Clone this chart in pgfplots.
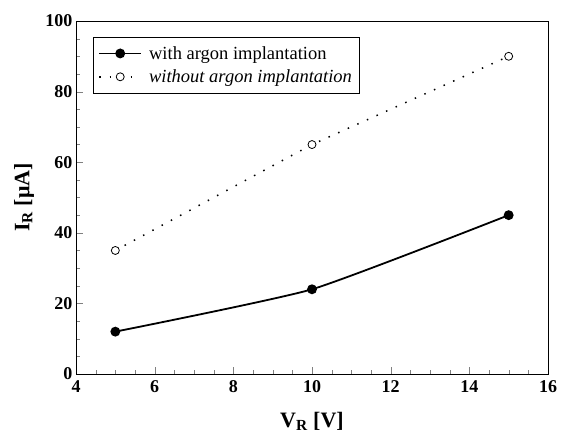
\documentclass[border=0pt]{standalone}
\usepackage{pgfplots}
\pgfplotsset{compat=1.18}
\usepackage{fontspec}
\setmainfont{Liberation Serif}

\begin{document}
\begin{tikzpicture}
\begin{axis}[
    scale only axis,
    width=472pt, height=353pt,
    xmin=4, xmax=16, ymin=0, ymax=100,
    xtick={4,6,...,16}, ytick={0,20,...,100},
    minor x tick num=3, minor y tick num=3,
    tick align=inside,
    xtick pos=bottom, ytick pos=left,
    major tick length=7pt, minor tick length=4pt,
    axis line style={line width=1pt},
    /pgf/number format/assume math mode=true,
    ticklabel style={font=\bfseries\fontsize{18}{18}\selectfont},
    xticklabel style={yshift=-3pt},
    xlabel={V\textsubscript{R} [V]},
    ylabel={I\textsubscript{R} [μA]},
    label style={font=\bfseries\fontsize{22}{22}\selectfont},
    xlabel style={at={(axis description cs:0.5,-0.133)}, anchor=center},
    ylabel style={at={(axis description cs:-0.110,0.5)}, anchor=center},
    legend style={at={(axis cs:4.43,95.5)}, anchor=north west,
      font=\fontsize{18.5}{19}\selectfont, draw=black, line width=0.8pt,
      inner xsep=5pt, inner ysep=7pt, row sep=5pt},
    legend cell align=left,
    legend image code/.code={
      \draw[mark repeat=2,mark phase=2,#1] plot coordinates {(0pt,0pt) (21pt,0pt) (42pt,0pt)};
      \path (47pt,0pt);},
]
\addplot[black, line width=1.8pt, smooth, tension=0.3, mark=*, mark size=4pt,
  mark options={solid}]
  coordinates {(5,12) (10,24) (15,45)};
\addlegendentry{with argon implantation}
\addplot[black, line width=1.5pt, dash pattern=on 1.5pt off 9pt, mark=*, mark size=4pt,
  mark options={solid, line width=0.8pt, fill=white, draw=black}]
  coordinates {(5,35) (10,65) (15,90)};
\addlegendentry{\textit{without argon implantation}}
\end{axis}
\pgfresetboundingbox
\path[use as bounding box] ([xshift=-76pt,yshift=-63pt]current axis.south west)
  rectangle ([xshift=15pt,yshift=21pt]current axis.north east);
\end{tikzpicture}
\end{document}
